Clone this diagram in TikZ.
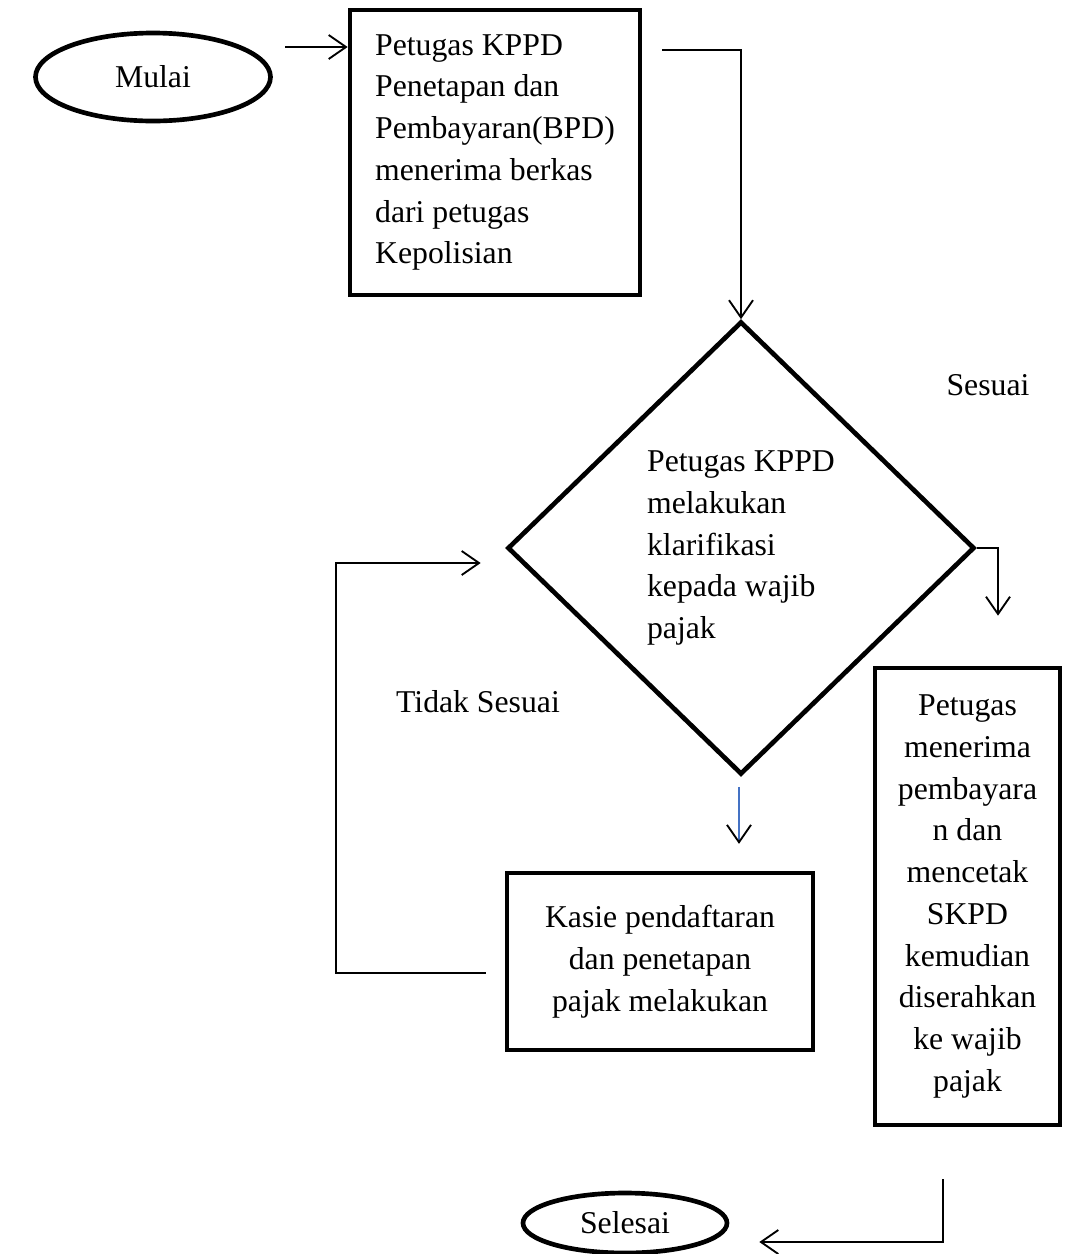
\documentclass[tikz,border=0pt]{standalone}
\usepackage{fontspec}
\setmainfont{Liberation Serif}
\usetikzlibrary{positioning,calc,shapes.geometric,arrows.meta}
\newcommand{\px}{0.75pt}
\definecolor{lineblue}{HTML}{4472C4}
\tikzset{
  txt/.style={font=\fontsize{23.8}{31.3}\selectfont},
  proses/.style={txt,draw,line width=3.5pt,rectangle,inner sep=0pt},
  terminal/.style={txt,draw,line width=3.5pt,ellipse,inner sep=0pt},
  arr/.style={line width=1.4pt,-{Straight Barb[length=13pt,width=18pt]}},
}

\begin{document}
\begin{tikzpicture}[x=0.75pt,y=-0.75pt]
  \useasboundingbox (0,0) rectangle (1068,1254);
  % bentuk
  \node[terminal,minimum width=235*\px,minimum height=88*\px] (mulai) at (153,77) {Mulai};
  \node[proses,minimum width=290*\px,minimum height=285*\px,align=left] (terima) at (495,152.5)
    {Petugas KPPD\\Penetapan dan\\Pembayaran(BPD)\\menerima berkas\\dari petugas\\Kepolisian};
  \node[txt,draw,line width=3.5pt,diamond,inner sep=0pt,minimum width=467*\px,minimum height=453*\px,align=left] (cek) at (741,548)
    {Petugas KPPD\\melakukan\\klarifikasi\\kepada wajib\\pajak};
  \node[proses,minimum width=306*\px,minimum height=177*\px,align=center] (kasie) at (660,961.5)
    {Kasie pendaftaran\\dan penetapan\\pajak melakukan};
  \node[proses,minimum width=185*\px,minimum height=457*\px,align=center] (bayar) at (967.5,896.5)
    {Petugas\\menerima\\pembayara\\n dan\\mencetak\\SKPD\\kemudian\\diserahkan\\ke wajib\\pajak};
  \node[terminal,minimum width=204*\px,minimum height=60*\px] (selesai) at (625,1223) {Selesai};
  \node[txt] (sesuai) at (988,385) {Sesuai};
  \node[txt] (tidak) at (478,702) {Tidak Sesuai};
  % panah
  \coordinate (m1) at ($(mulai.east)+(12.5,-30)$);
  \draw[arr] (m1) -- (m1 -| terima.west);
  \draw[arr] ($(terima.north east)+(20,42)$) -| (cek.north);
  \draw[arr] (cek.east) -| ($(bayar.north)+(30.5,-50)$);
  \draw[line width=1.4pt,draw=lineblue,-{Straight Barb[length=13pt,width=18pt,color=black]}]
    ($(cek.south)+(-2,10)$) -- ($(cek.south)+(-2,67)$);
  \draw[arr] ($(kasie.west)+(-19,11.5)$) -| ($(cek.west)+(-169.5,15)$) -- ($(cek.west)+(-24.5,15)$);
  \draw[arr] ($(bayar.south)+(-24.5,52)$) |- ($(selesai.east)+(30,19)$);
\end{tikzpicture}
\end{document}
